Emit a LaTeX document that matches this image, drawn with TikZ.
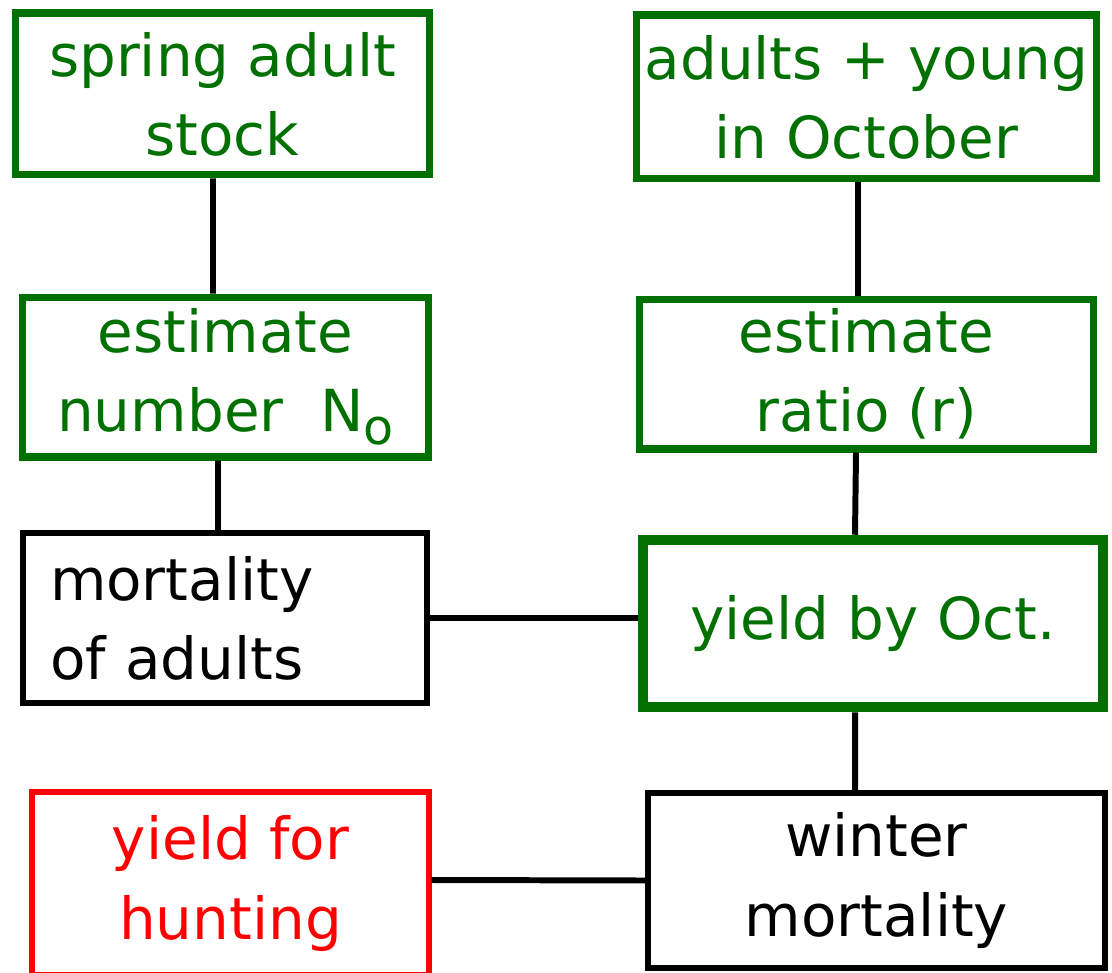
\documentclass[tikz,border=0pt]{standalone}
\usepackage{fontspec}
\setmainfont{DejaVu Sans}
\usepackage{tikz}
\usetikzlibrary{arrows, shapes, positioning}
\definecolor{boxgreen}{RGB}{0,112,0}
\definecolor{boxred}{RGB}{255,0,0}

\begin{document}
\begin{tikzpicture}[x=0.02cm,y=-0.02cm]
        \tikzstyle{block} = [draw, shape=rectangle, align=center, inner sep=0pt,
        font=\fontsize{33}{45}\selectfont, line width=4pt]
        \tikzstyle{greenbox} = [block, draw=boxgreen, text=boxgreen]
        \tikzstyle{blackbox} = [block, draw=black, text=black, line width=3.5pt]
        \tikzstyle{redbox} = [block, draw=boxred, text=boxred, line width=3pt]
        \useasboundingbox (0,0) rectangle (1112,973);
        %Creating Blocks
        \node [greenbox, minimum width=8.3cm, minimum height=3.24cm] at (222.5,94) (spring) {spring adult\\stock};
        \node [greenbox, minimum width=9.22cm, minimum height=3.28cm] at (866.5,97) (adults) {adults + young\\in October};
        \node [greenbox, minimum width=8.14cm, minimum height=3.2cm] at (225.5,377) (estN) {estimate\\number\ \ N\raisebox{-0.4ex}{\fontsize{28}{28}\selectfont o}};
        \node [greenbox, minimum width=9.1cm, minimum height=3.0cm] at (866.5,374) (estR) {estimate\\ratio (r)};
        \node [blackbox, minimum width=8.08cm, minimum height=3.4cm, text width=7cm, align=left] at (225,618) (mort) {mortality\\of adults};
        \node [greenbox, line width=6pt, minimum width=9.2cm, minimum height=3.34cm] at (873,623.5) (yieldOct) {yield by Oct.};
        \node [redbox, minimum width=7.94cm, minimum height=3.66cm] at (230.5,883.5) (hunting) {yield for\\hunting};
        \node [blackbox, minimum width=9.14cm, minimum height=3.5cm] at (876.5,880.5) (winter) {winter\\mortality};
        %Connecting Blocks
        \begin{scope}[line width=3.4pt]
            \draw ([xshift=-0.19cm]spring.south) -- ([xshift=-0.25cm]estN.north);
            \draw ([xshift=-0.15cm]estN.south) -- ([xshift=-0.14cm]mort.north);
            \draw ([xshift=-0.17cm]adults.south) -- ([xshift=-0.17cm]estR.north);
            \draw ([xshift=-0.21cm]estR.south) -- ([xshift=-0.36cm]yieldOct.north);
            \draw (mort.east) -- ([yshift=0.11cm]yieldOct.west);
            \draw ([xshift=-0.36cm]yieldOct.south) -- ([xshift=-0.43cm]winter.north);
            \draw ([yshift=0.07cm]hunting.east) -- (winter.west);
        \end{scope}
\end{tikzpicture}
\end{document}
